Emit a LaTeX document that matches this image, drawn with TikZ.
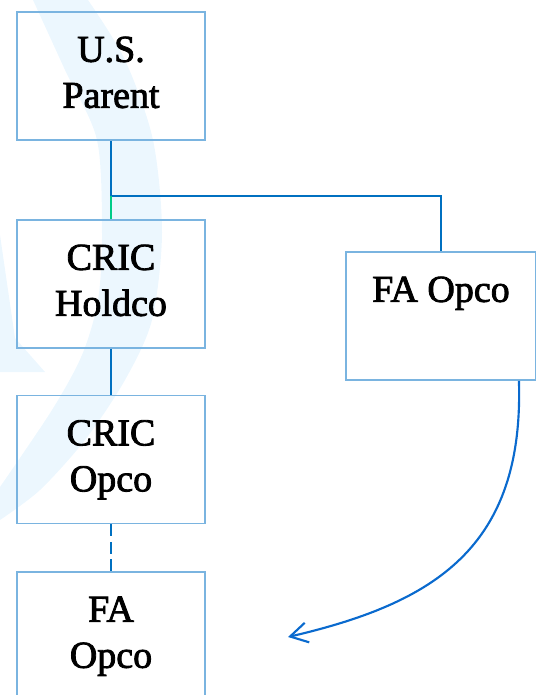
\documentclass[tikz,border=0pt]{standalone}
\usepackage{fontspec}
\setmainfont{Liberation Serif}[FakeBold=2.2]
\usetikzlibrary{positioning,arrows.meta}

\definecolor{boxblue}{RGB}{122,180,224}
\definecolor{linkblue}{RGB}{0,112,192}
\definecolor{linkgreen}{RGB}{0,204,136}
\definecolor{arrowblue}{RGB}{10,106,206}
\definecolor{markblue}{RGB}{236,247,254}

\begin{document}
\begin{tikzpicture}[
    x=0.75pt, y=-0.75pt,
    entity/.style={rectangle, draw=boxblue, line width=1.4pt, minimum width=141pt, minimum height=96pt, inner sep=0pt},
    entitytext/.style={align=center, inner sep=0pt, font=\fontsize{28.5pt}{34.5pt}\selectfont},
    link/.style={draw=linkblue, line width=1.5pt},
    movearrow/.style={draw=arrowblue, line width=1.6pt, -{Straight Barb[length=13pt, width=15pt, line width=1.6pt]}}
]
    \useasboundingbox (0,0) rectangle (535,695);

    % Watermark in the background
    \fill[markblue] plot[smooth] coordinates {(33,0) (65,70) (97,140) (102,233) (98,300) (82,355) (52,410) (0,487)}
        -- plot[smooth] coordinates {(0,520) (40,490) (85,440) (125,380) (152,320) (162,233) (153,140) (125,60) (88,0)} -- cycle;
    \fill[markblue] plot[smooth] coordinates {(0,235) (8,290) (15,338)} -- (30,355) -- (45,372) -- (0,372) -- cycle;

    % Entities
    \node[entity] (parent) at (111,76) {};
    \node[entitytext, below=19pt of parent.north] (parenttext) {U.S.\\Parent};

    \node[entity] (holdco) at (111,284) {};
    \node[entitytext, below=19pt of holdco.north] (holdcotext) {CRIC\\Holdco};

    \node[entity] (opco) at (111,459.5) {};
    \node[entitytext, below=19pt of opco.north] (opcotext) {CRIC\\Opco};

    \node[entity] (faopco) at (111,636) {};
    \node[entitytext, below=19pt of faopco.north] (faopcotext) {FA\\Opco};

    \node[entity, minimum width=142.5pt] (faright) at (441,316) {};
    \node[entitytext, below=19pt of faright.north] (farighttext) {FA Opco};

    % Ownership lines
    \coordinate (junc) at (111,196);
    \draw[link] (parent.south) -- (junc);
    \draw[link] (junc) -| (faright.north);
    \draw[link, draw=linkgreen] (junc) -- (holdco.north);
    \draw[link] (holdco.south) -- (opco.north);
    \draw[link, dash pattern=on 9pt off 4pt] (opco.south) -- (faopco.north);

    % Move of FA Opco
    \coordinate (arrowend) at (288,637);
    \draw[movearrow] ([xshift=-13.5pt]faright.south east) .. controls (524,548) and (434,603) .. (arrowend);

\end{tikzpicture}
\end{document}
